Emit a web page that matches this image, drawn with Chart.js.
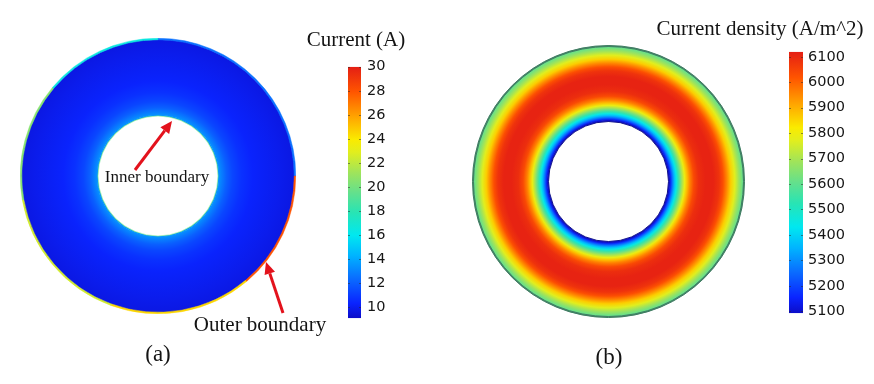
<!DOCTYPE html>
<html>
<head>
<meta charset="utf-8">
<script src="https://cdn.jsdelivr.net/npm/chart.js@4.4.1/dist/chart.umd.min.js"></script>
<style>
    html, body { margin: 0; padding: 0; background: #fff; }
    #stage { position: relative; width: 874px; height: 384px; overflow: hidden; background: #fff; }
    .box { position: absolute; }
    .lbl {
        position: absolute;
        font-family: 'Liberation Serif', 'Times New Roman', serif;
        color: #141414;
        white-space: nowrap;
        line-height: 1;
        transform: translate(-50%, -50%);
    }
    #arrows { position: absolute; left: 0; top: 0; pointer-events: none; }
</style>
</head>
<body>
<div id="stage">
    <div class="box" style="left:20px;top:38px;width:276px;height:276px"><canvas id="ringA"></canvas></div>
    <div class="box" style="left:348px;top:52px;width:53px;height:281px"><canvas id="barA"></canvas></div>
    <div class="box" style="left:472px;top:45px;width:273px;height:273px"><canvas id="ringB"></canvas></div>
    <div class="box" style="left:789px;top:38px;width:64px;height:289px"><canvas id="barB"></canvas></div>

    <svg id="arrows" width="874" height="384"></svg>

    <div class="lbl" style="left:356px;top:39px;font-size:21px">Current (A)</div>
    <div class="lbl" style="left:760px;top:28px;font-size:21px">Current density (A/m^2)</div>
    <div class="lbl" style="left:157px;top:176px;font-size:17px">Inner boundary</div>
    <div class="lbl" style="left:260px;top:324px;font-size:21px">Outer boundary</div>
    <div class="lbl" style="left:158px;top:353px;font-size:23px">(a)</div>
    <div class="lbl" style="left:609px;top:356px;font-size:23px">(b)</div>
</div>

<script>
// ---- data ----

// (a) current, radial profile through the ring (0 = inner boundary, 1 = outer boundary)
const radialPosA = [0, 0.04, 0.1, 0.18, 0.3, 0.45, 0.62, 0.82, 1];
const currentA   = [13.4, 12.8, 12.0, 11.3, 10.7, 10.3, 10.1, 9.9, 9.7];

// (a) thin line on the outer boundary, segments clockwise from the top (degrees)
const edgeSpanA    = [90, 50, 60, 60, 50, 50];
const edgeCurrentA = [12.5, 28, 24.5, 22.5, 20.5, 16.5];
const innerEdgeA   = [19.5];

// (b) current density, radial profile through the ring
const radialPosB = [0, 0.02, 0.039, 0.066, 0.092, 0.118, 0.145, 0.171, 0.204, 0.237, 0.276, 0.329,
                    0.395, 0.487, 0.592, 0.671, 0.724, 0.776, 0.829, 0.882, 0.934, 0.974, 1];
const densityB   = [5100, 5180, 5260, 5360, 5450, 5540, 5620, 5700, 5790, 5880, 5960, 6040,
                    6090, 6110, 6110, 6080, 6030, 5950, 5860, 5770, 5690, 5630, 5600];

// colour bars
const rangeA = [9.08, 30];
const ticksA = [10, 12, 14, 16, 18, 20, 22, 24, 26, 28, 30];
const rangeB = [5092, 6120];
const ticksB = [5100, 5200, 5300, 5400, 5500, 5600, 5700, 5800, 5900, 6000, 6100];

// ---- colour map (rainbow) ----
const CMAP = [
    [0.00, [12, 12, 200]],
    [0.06, [10, 36, 255]],
    [0.16, [10, 110, 255]],
    [0.25, [0, 180, 255]],
    [0.33, [0, 232, 240]],
    [0.42, [40, 228, 180]],
    [0.50, [100, 224, 140]],
    [0.58, [160, 228, 90]],
    [0.66, [225, 238, 30]],
    [0.71, [250, 235, 0]],
    [0.80, [255, 165, 0]],
    [0.90, [255, 85, 0]],
    [1.00, [228, 30, 20]]
];

function colorAt(f) {
    f = Math.max(0, Math.min(1, f));
    for (let i = 1; i < CMAP.length; i++) {
        if (f <= CMAP[i][0]) {
            const [f0, c0] = CMAP[i - 1], [f1, c1] = CMAP[i];
            const k = (f - f0) / (f1 - f0);
            const c = c0.map((v, j) => Math.round(v + (c1[j] - v) * k));
            return `rgb(${c[0]},${c[1]},${c[2]})`;
        }
    }
    const c = CMAP[CMAP.length - 1][1];
    return `rgb(${c[0]},${c[1]},${c[2]})`;
}
const toColor = (v, range) => colorAt((v - range[0]) / (range[1] - range[0]));

// radial gradient across one ring of a doughnut, stops from a profile
function radialFill(pos, vals, range) {
    return (ctx) => {
        const chart = ctx.chart;
        const area = chart.chartArea;
        const ctrl = chart.getDatasetMeta(ctx.datasetIndex).controller;
        const r0 = ctrl.innerRadius, r1 = ctrl.outerRadius;
        // radii are not known yet on the first pass (border width lookup)
        if (!area || !Number.isFinite(r0) || !Number.isFinite(r1) || r1 <= r0) {
            return toColor(vals[0], range);
        }
        const cx = (area.left + area.right) / 2;
        const cy = (area.top + area.bottom) / 2;
        const g = chart.ctx.createRadialGradient(cx, cy, r0, cx, cy, r1);
        pos.forEach((t, i) => g.addColorStop(t, toColor(vals[i], range)));
        return g;
    };
}

// vertical gradient for a colour bar, along its y scale
function barFill(range) {
    return (ctx) => {
        const y = ctx.chart.scales.y;
        if (!y) return '#000';
        const p0 = y.getPixelForValue(range[0]), p1 = y.getPixelForValue(range[1]);
        if (!Number.isFinite(p0) || !Number.isFinite(p1) || p0 === p1) return '#000';
        const g = ctx.chart.ctx.createLinearGradient(0, p0, 0, p1);
        CMAP.forEach(s => g.addColorStop(s[0], `rgb(${s[1].join(',')})`));
        return g;
    };
}

const baseOpts = {
    responsive: true,
    maintainAspectRatio: false,
    animation: false,
    events: [],
    plugins: { legend: { display: false }, tooltip: { enabled: false } }
};

function ringChart(id, datasets) {
    return new Chart(document.getElementById(id), {
        type: 'doughnut',
        data: { datasets },
        options: { ...baseOpts, cutout: 60, layout: { padding: 0 } }
    });
}

ringChart('ringA', [
    {
        data: edgeSpanA,
        weight: 1.5,
        backgroundColor: edgeCurrentA.map(v => toColor(v, rangeA)),
        borderColor: edgeCurrentA.map(v => toColor(v, rangeA)),
        borderWidth: 0.5
    },
    {
        data: [1],
        weight: 75,
        backgroundColor: radialFill(radialPosA, currentA, rangeA),
        borderColor: radialFill(radialPosA, currentA, rangeA),
        borderWidth: 1
    },
    {
        data: [1],
        weight: 1,
        backgroundColor: innerEdgeA.map(v => toColor(v, rangeA)),
        borderColor: innerEdgeA.map(v => toColor(v, rangeA)),
        borderWidth: 0.5
    }
]);

ringChart('ringB', [
    { data: [1], weight: 1, backgroundColor: '#3f7d62', borderColor: '#3f7d62', borderWidth: 1 },
    {
        data: [1],
        weight: 74,
        backgroundColor: radialFill(radialPosB, densityB, rangeB),
        borderColor: radialFill(radialPosB, densityB, rangeB),
        borderWidth: 1
    },
    { data: [1], weight: 1, backgroundColor: '#14148c', borderColor: '#14148c', borderWidth: 1 }
]);

// short dark marks on both edges of the colour bar at every tick
const tickMarks = {
    id: 'tickMarks',
    afterDatasetsDraw(chart) {
        const y = chart.scales.y, a = chart.chartArea, c = chart.ctx;
        c.save();
        c.strokeStyle = 'rgba(40,40,40,0.5)';
        c.lineWidth = 1;
        y.ticks.forEach(t => {
            const py = Math.round(y.getPixelForValue(t.value)) + 0.5;
            c.beginPath();
            c.moveTo(a.left, py); c.lineTo(a.left + 2, py);
            c.moveTo(a.right - 2, py); c.lineTo(a.right, py);
            c.stroke();
        });
        c.restore();
    }
};

function colorBar(id, range, tickVals, axisWidth, pad) {
    return new Chart(document.getElementById(id), {
        type: 'bar',
        data: {
            labels: [''],
            datasets: [{
                data: [range],
                backgroundColor: barFill(range),
                borderWidth: 0,
                inflateAmount: 0,
                barPercentage: 1,
                categoryPercentage: 1
            }]
        },
        options: {
            ...baseOpts,
            layout: { padding: { top: 10, bottom: 10, left: 0, right: 0 } },
            scales: {
                x: { display: false },
                y: {
                    position: 'right',
                    min: range[0],
                    max: range[1],
                    afterBuildTicks: s => { s.ticks = tickVals.map(v => ({ value: v })); },
                    afterFit: s => { s.width = axisWidth; },
                    grid: { display: false, drawTicks: false },
                    border: { display: false },
                    ticks: {
                        autoSkip: false,
                        padding: pad,
                        color: '#161616',
                        font: { family: 'DejaVu Sans', size: 14.5 },
                        callback: v => String(v)
                    }
                }
            }
        },
        plugins: [tickMarks]
    });
}

colorBar('barA', rangeA, ticksA, 40, 6);
colorBar('barB', rangeB, ticksB, 50, 5);

// red arrows pointing at the boundaries: [tailX, tailY, tipX, tipY]
const arrowsA = [[135, 170, 172, 121], [283, 313, 266, 262]];
const svg = document.getElementById('arrows');
arrowsA.forEach(([x0, y0, x1, y1]) => {
    const len = Math.hypot(x1 - x0, y1 - y0);
    const ux = (x1 - x0) / len, uy = (y1 - y0) / len;
    const hl = 12, hw = 5.5;
    const bx = x1 - ux * hl, by = y1 - uy * hl;
    const ns = 'http://www.w3.org/2000/svg';
    const line = document.createElementNS(ns, 'line');
    line.setAttribute('x1', x0); line.setAttribute('y1', y0);
    line.setAttribute('x2', bx); line.setAttribute('y2', by);
    line.setAttribute('stroke', '#e3121c'); line.setAttribute('stroke-width', '3');
    svg.appendChild(line);
    const head = document.createElementNS(ns, 'polygon');
    head.setAttribute('points', `${x1},${y1} ${bx - uy * hw},${by + ux * hw} ${bx + uy * hw},${by - ux * hw}`);
    head.setAttribute('fill', '#e3121c');
    svg.appendChild(head);
});
</script>
</body>
</html>
